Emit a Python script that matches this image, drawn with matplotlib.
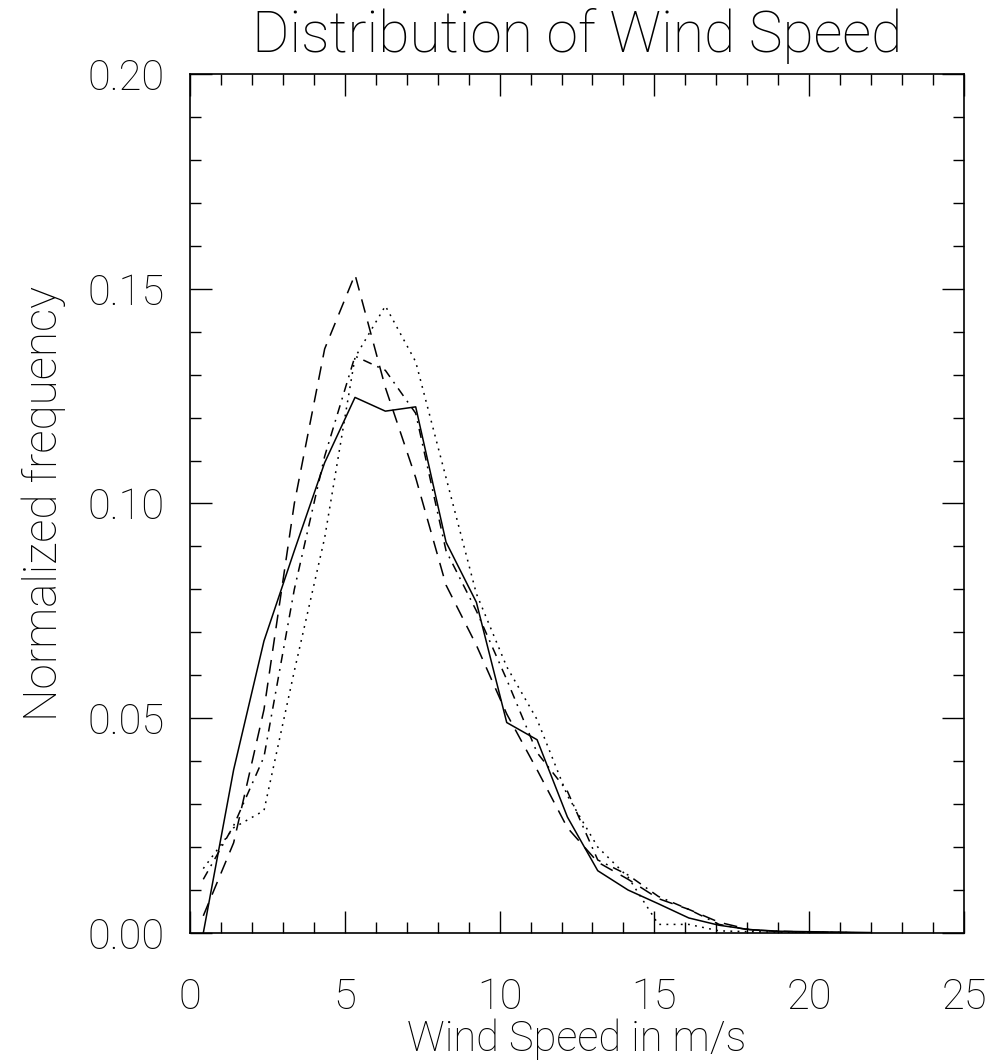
import matplotlib as mpl

mpl.use("Agg")

import matplotlib.pyplot as plt
from matplotlib.ticker import MultipleLocator

# bin centres (m/s)
wind_speed = [0.43, 1.41, 2.39, 3.37, 4.35, 5.33, 6.31, 7.29, 8.27, 9.25, 10.23, 11.21,
              12.19, 13.17, 14.15, 15.13, 16.11, 17.09, 18.07, 19.05, 20.03, 21.01, 21.99]

freq_solid = [0.000, 0.038, 0.068, 0.089, 0.1095, 0.1247, 0.1215, 0.1225, 0.091, 0.077, 0.049, 0.045,
              0.027, 0.0145, 0.010, 0.0068, 0.0035, 0.0018, 0.0008, 0.0004, 0.0003, 0.0002, 0.0001]
freq_dashed = [0.004, 0.021, 0.052, 0.100, 0.136, 0.1533, 0.127, 0.106, 0.081, 0.067, 0.051, 0.038,
               0.0245, 0.0165, 0.0125, 0.008, 0.0055, 0.0025, 0.0008, 0.0003, 0.0002, 0.0001, 0.0]
freq_dashdot = [0.0125, 0.025, 0.041, 0.080, 0.111, 0.1343, 0.131, 0.121, 0.089, 0.075, 0.059, 0.042,
                0.033, 0.017, 0.0135, 0.0085, 0.0055, 0.002, 0.0007, 0.0004, 0.0002, 0.0001, 0.0]
freq_dotted = [0.015, 0.0245, 0.0285, 0.061, 0.092, 0.134, 0.146, 0.133, 0.106, 0.079, 0.062, 0.0497,
               0.032, 0.020, 0.013, 0.002, 0.002, 0.0005, 0.0003, 0.0002, 0.0001, 0.0001, 0.0]

plt.rcParams["font.family"] = ["Roboto", "DejaVu Sans"]

fig = plt.figure(figsize=(9.91, 10.63), dpi=100)
ax = fig.add_axes([0.1917, 0.1223, 0.7811, 0.8081])

lw = 1.1
ax.plot(wind_speed, freq_solid, color="black", linewidth=lw, linestyle="-")
ax.plot(wind_speed, freq_dashed, color="black", linewidth=lw, linestyle=(0, (9, 6)))
ax.plot(wind_speed, freq_dashdot, color="black", linewidth=lw, linestyle=(0, (6, 4, 1.2, 4)))
ax.plot(wind_speed, freq_dotted, color="black", linewidth=lw, linestyle=(0, (1.2, 3.5)))

ax.set_xlim(0, 25)
ax.set_ylim(0, 0.20)
ax.xaxis.set_major_locator(MultipleLocator(5))
ax.xaxis.set_minor_locator(MultipleLocator(1))
ax.yaxis.set_major_locator(MultipleLocator(0.05))
ax.yaxis.set_minor_locator(MultipleLocator(0.01))
ax.yaxis.set_major_formatter(lambda v, pos: f"{v:.2f}")

ax.tick_params(which="both", direction="in", top=True, right=True, width=1.0, colors="black")
ax.tick_params(which="major", length=16, labelsize=30)
ax.tick_params(which="minor", length=8)
ax.tick_params(axis="x", which="major", pad=32)
ax.tick_params(axis="y", which="major", pad=18)
for lab in ax.get_xticklabels() + ax.get_yticklabels():
    lab.set_fontweight("light")
for spine in ax.spines.values():
    spine.set_linewidth(1.2)

ax.set_title("Distribution of Wind Speed", fontsize=41, fontweight="light", pad=16)
ax.set_xlabel("Wind Speed in m/s", fontsize=30, fontweight="light", labelpad=0)
ax.set_ylabel("Normalized frequency", fontsize=33, fontweight="light", labelpad=16)

fig.savefig("out.png", facecolor="white")
plt.close(fig)
